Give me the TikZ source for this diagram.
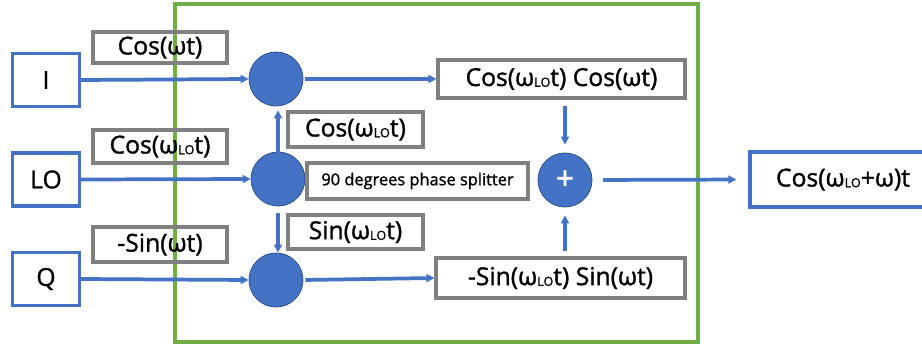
\documentclass[tikz,border=0pt]{standalone}
\usepackage{fontspec}
\setmainfont{Open Sans}[FakeBold=1.3]
\usetikzlibrary{arrows.meta}

\definecolor{offblue}{RGB}{68,114,196}
\definecolor{darkblue}{RGB}{47,82,143}
\definecolor{boxgray}{RGB}{128,128,128}
\definecolor{offgreen}{RGB}{112,173,71}

\newcommand{\lo}{\raisebox{-0.6pt}{\fontsize{9.5}{10}\selectfont LO}}

\tikzset{every picture/.style={line width=0.75pt}}

\begin{document}
\begin{tikzpicture}[x=0.75pt,y=0.75pt,yscale=-1,xscale=1,
  inbox/.style={draw=offblue,line width=2.6pt,minimum width=50pt,minimum height=40pt,inner sep=0pt,font=\fontsize{18.5}{20}\selectfont},
  lblbox/.style={draw=boxgray,line width=2.6pt,inner sep=0pt,font=\fontsize{18.5}{20}\selectfont},
  mixer/.style={circle,draw=darkblue,fill=offblue,line width=0.6pt,minimum size=40.5pt,inner sep=0pt},
  sig/.style={draw=offblue,line width=2.8pt,-{Triangle[length=6pt,width=6pt]}}]
\clip (0,0) rectangle (922,346);

%Shape: Rectangle (green frame)
\draw [offgreen,line width=2.6pt] (175,4) rectangle (698,342);

% input blocks
\node [inbox] (inI) at (46,80) {I};
\node [inbox] (inLO) at (46,179.5) {LO};
\node [inbox] (inQ) at (46,279) {Q};

% input signal labels
\node [lblbox,minimum width=100.5pt,minimum height=23.5pt] (lblI) at (160,47.5) {Cos(ωt)};
\node [lblbox,minimum width=100.5pt,minimum height=25pt] (lblLO) at (160,146.5) {Cos(ω\lo t)};
\node [lblbox,minimum width=100.5pt,minimum height=26pt] (lblQ) at (160,244.5) {-Sin(ωt)};

% mixers and splitter
\node [mixer] (mixI) at (276,79) {};
\node [mixer] (split) at (278,179) {};
\node [mixer] (mixQ) at (276,280) {};
\node [mixer,text=white,font=\fontsize{24}{24}\selectfont] (sum) at (565,180) {+};

% splitter labels
\node [lblbox,minimum width=101pt,minimum height=26pt] (lblcos) at (355.5,129.5) {Cos(ω\lo t)};
\node [lblbox,minimum width=165.5pt,minimum height=27pt,font=\fontsize{12.3}{14}\selectfont] (lblsplit) at (417.5,181) {90 degrees phase splitter};
\node [lblbox,minimum width=101pt,minimum height=25.5pt] (lblsin) at (355.5,232) {Sin(ω\lo t)};

% products
\node [lblbox,minimum width=185pt,minimum height=28.5pt] (prodI) at (561.5,79) {Cos(ω\lo t) Cos(ωt)};
\node [lblbox,minimum width=186.5pt,minimum height=30pt] (prodQ) at (560.5,278) {-Sin(ω\lo t) Sin(ωt)};

% output
\node [inbox,minimum width=139.5pt,minimum height=41pt] (out) at (843,179.5) {Cos(ω\lo+ω)t};

% Straight Lines
\draw [sig] (inI.east) -- (mixI.west);
\draw [sig] (inLO.east) -- (split.west);
\draw [sig] (inQ.east) -- (mixQ.west);
\draw [sig,shorten <=-3pt,shorten >=3pt] (split.north) -- (mixI.south -| split.north);
\draw [sig,shorten <=5pt] (split.south) -- (mixQ.north -| split.south);
\draw [sig,shorten <=1.5pt] (mixI.east) -- (prodI.west);
\draw [sig,shorten <=1.5pt] (mixQ.east) -- (prodQ.west);
\draw [sig,shorten <=4.5pt,shorten >=6pt] (prodI.south -| sum) -- (sum.north);
\draw [sig,shorten <=4pt,shorten >=6pt] (prodQ.north -| sum) -- (sum.south);
\draw [sig,shorten <=8pt,shorten >=9pt] (sum.east) -- (out.west);

\end{tikzpicture}
\end{document}
